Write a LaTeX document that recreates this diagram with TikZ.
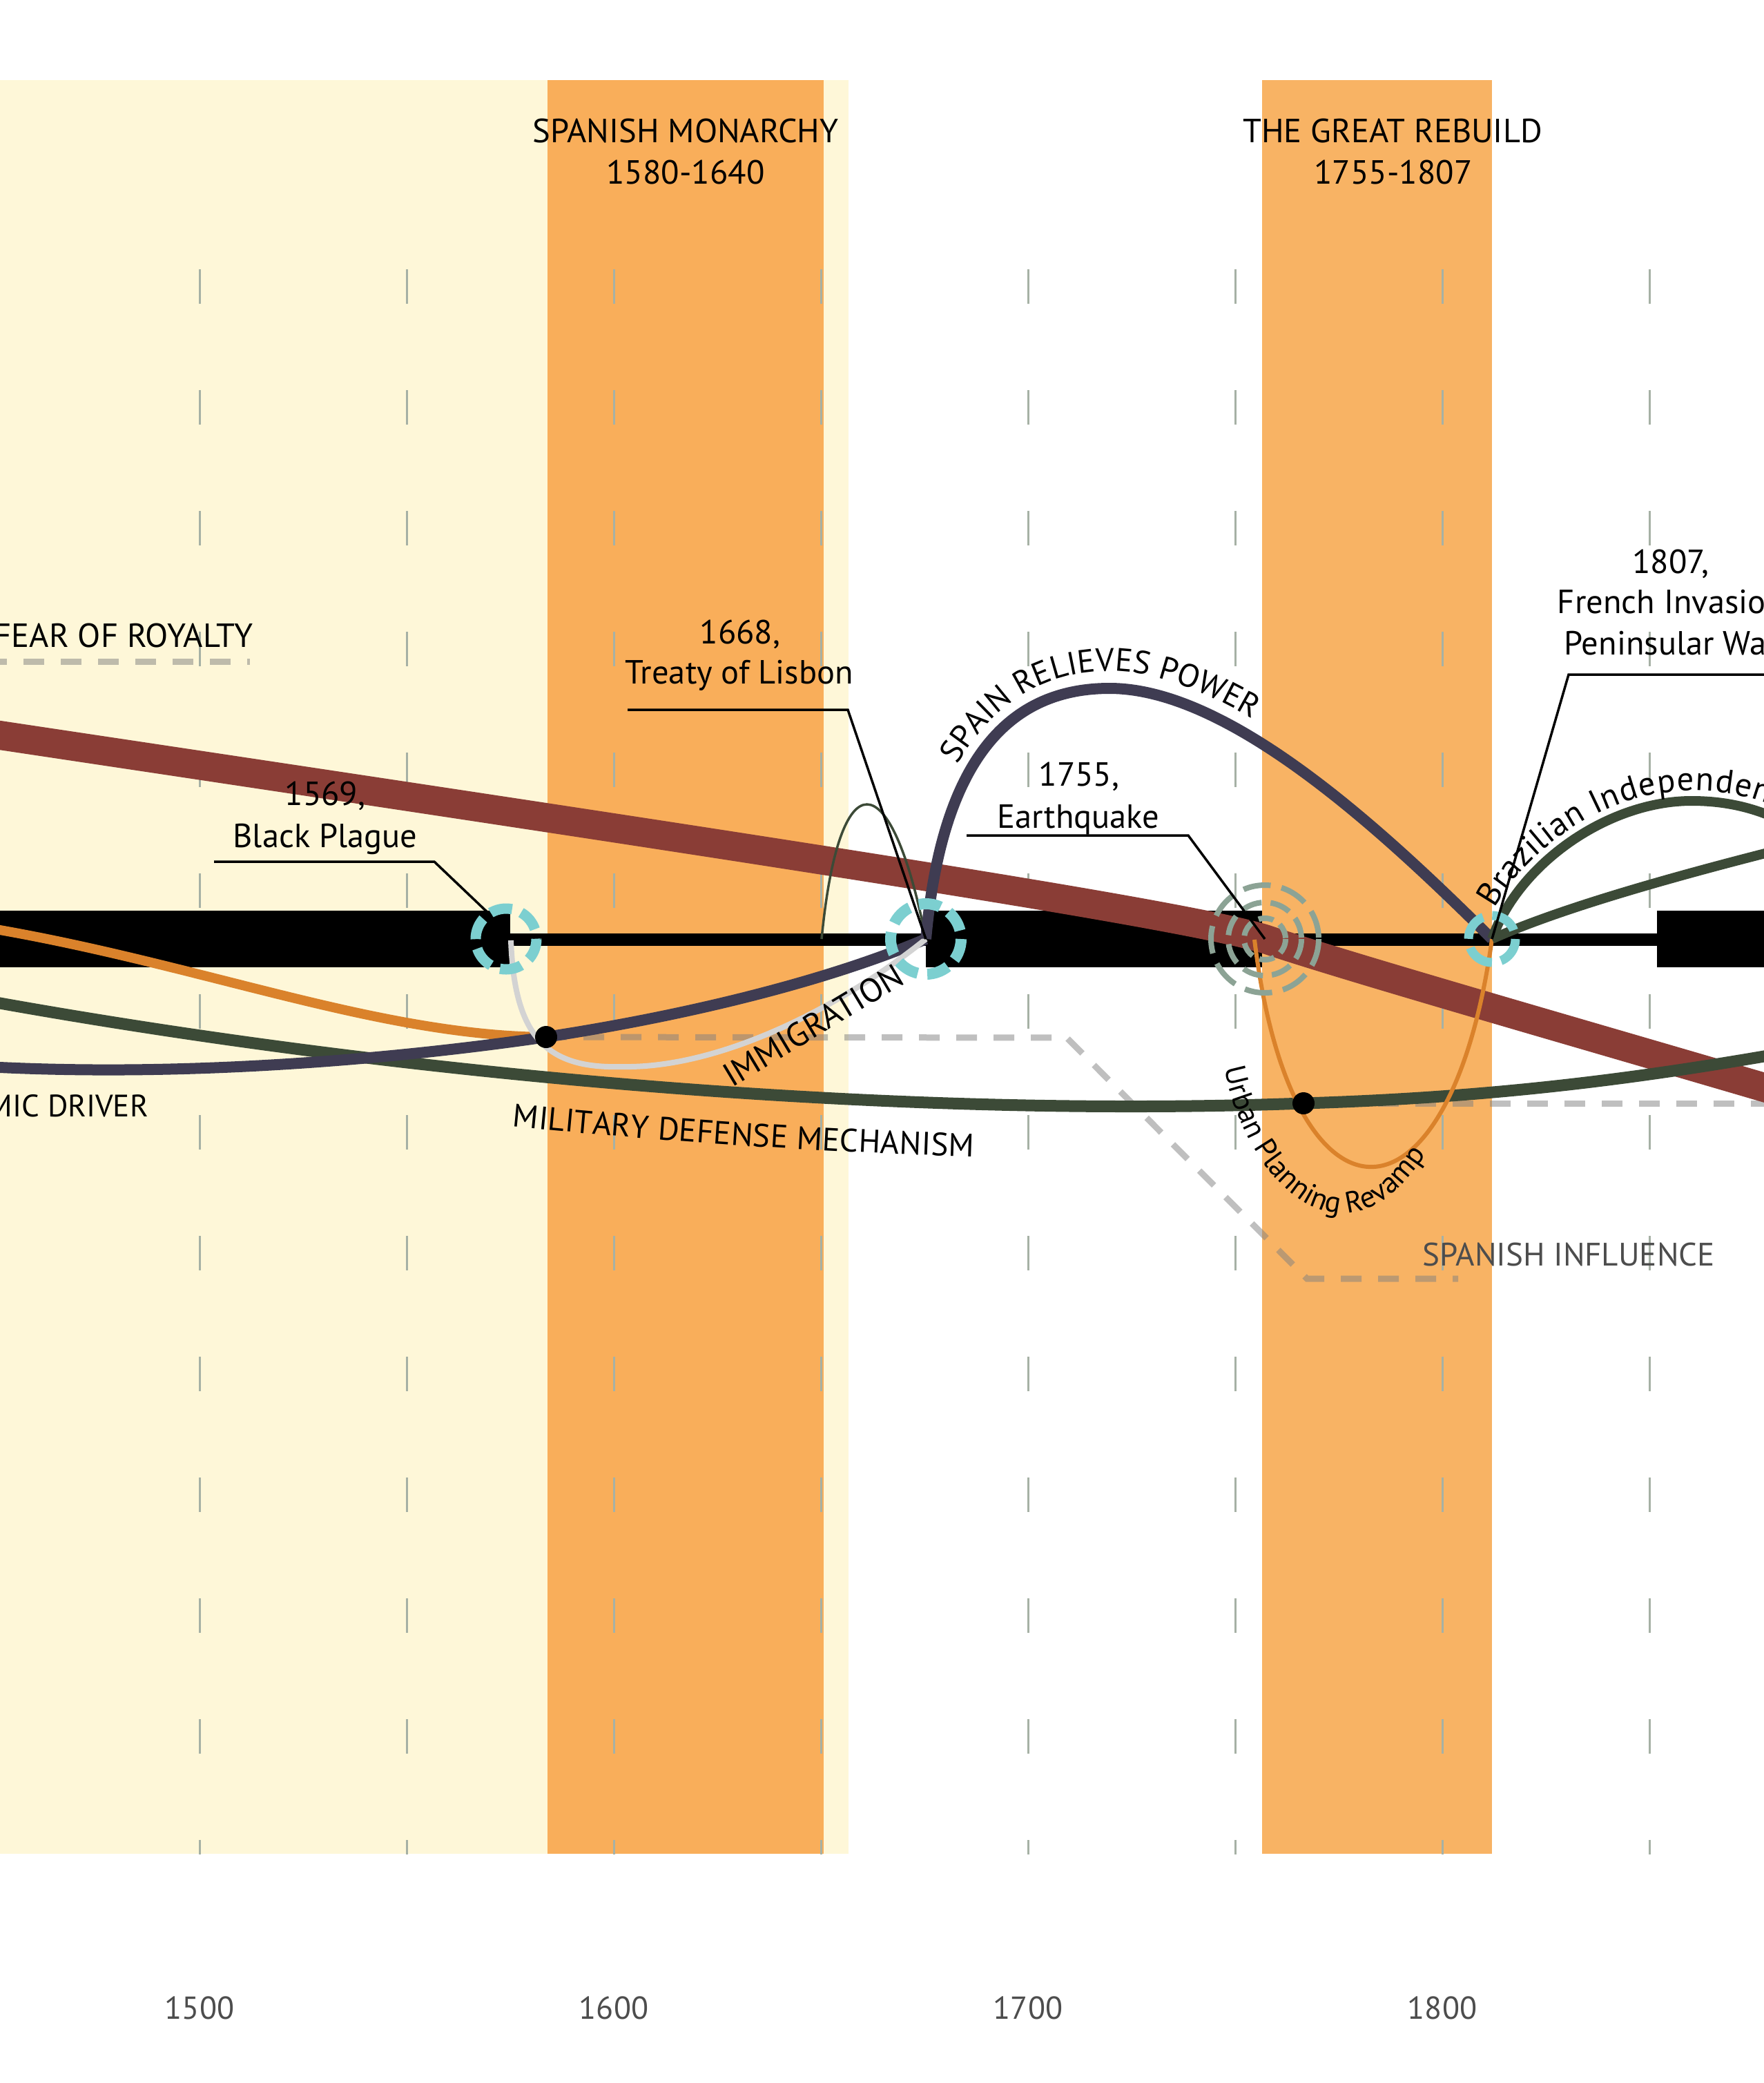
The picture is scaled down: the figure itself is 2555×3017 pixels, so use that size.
\documentclass[tikz,border=0pt]{standalone}
\usepackage{fontspec}
\setmainfont{PT Sans}
\usetikzlibrary{decorations.text}
\definecolor{paleyel}{HTML}{FEF7D8}
\definecolor{orangeA}{HTML}{F9AE5A}
\definecolor{orangeB}{HTML}{F8B364}
\definecolor{tickc}{HTML}{A6B1A5}
\definecolor{maroonc}{HTML}{8A3D36}
\definecolor{navyc}{HTML}{3F3C52}
\definecolor{dgreen}{HTML}{3C4A37}
\definecolor{orangeL}{HTML}{DA822B}
\definecolor{greyL}{HTML}{D3D3D3}
\definecolor{cyanR}{HTML}{7CCFD0}
\definecolor{sagec}{HTML}{8CA395}
\definecolor{labgrey}{HTML}{4D4D4D}
\newcommand\lblfont{\fontsize{48.5}{58}\selectfont}
\newcommand\milfont{\fontsize{47}{56}\selectfont}
\newcommand\yrfont{\fontsize{46}{56}\selectfont}
\newcommand\ecofont{\fontsize{45}{54}\selectfont}
\newcommand\spfont{\fontsize{47}{56}\selectfont}
\newcommand\urbfont{\fontsize{43}{52}\selectfont}
\begin{document}
\begin{tikzpicture}[x=1pt,y=-1pt,
  lab/.style={font=\lblfont, inner sep=0pt, anchor=base},
  yr/.style={font=\yrfont, inner sep=0pt, anchor=base, text=labgrey},
  tickline/.style={draw=tickc, line width=3pt},
  dashgrey/.style={draw=gray, draw opacity=0.5, line width=9pt, dash pattern=on 30pt off 24pt},
  leader/.style={draw=black, line width=3.5pt},
  cyanring/.style={draw=cyanR, dash pattern=on 32pt off 14pt},
  sagering/.style={draw=sagec, line width=8pt},
]
\useasboundingbox (0,0) rectangle (2555,3017);
\clip (0,0) rectangle (2555,3017);
\fill[white] (0,0) rectangle (2555,3017);
% bands
\fill[paleyel] (0,116) rectangle (1229,2685);
\fill[orangeA] (793,116) rectangle (1193,2685);
\fill[orangeB] (1828,116) rectangle (2161,2685);
% ticks
\foreach \x in {289,589,...,2389} {
  \foreach \y in {390,565,...,2490} { \draw[tickline] (\x,\y) -- (\x,\y+50); }
  \draw[tickline] (\x,2665) -- (\x,2686);
}
% years
\node[yr] (y1500) at (289,2924) {1500};
\node[yr] (y1600) at (889,2924) {1600};
\node[yr] (y1700) at (1489,2924) {1700};
\node[yr] (y1800) at (2089,2924) {1800};
% key points
\coordinate (plague) at (733,1360);
\coordinate (defense) at (791,1502);
\coordinate (treaty) at (1341,1360);
\coordinate (quake) at (1832,1360);
\coordinate (quakeL) at (1817,1361);
\coordinate (invasion) at (2161,1360);
\coordinate (urban) at (1888,1598);
% timeline
\fill[black] (0,1319) rectangle (739,1401);
\fill[black] (739,1352) rectangle (1341,1370);
\fill[black] (1341,1319) rectangle (1828,1401);
\fill[black] (1828,1352) rectangle (2400,1370);
\fill[black] (2400,1319) rectangle (2555,1401);
% dashed grey lines
\draw[dashgrey] (-20,958) -- (362,958);
\draw[dashgrey] (defense) -- (1545,1503) -- (1893,1852) -- (2112,1852);
\draw[dashgrey] (urban) -- (2600,1598);
% maroon band
\draw[maroonc, line width=42pt] (-100,1050) -- (0,1065) .. controls (1000,1215) and (1700,1320) .. (quake) .. controls (1950,1400) and (2300,1500) .. (2555,1575) -- (2655,1604);
% main green
\draw[dgreen, line width=17pt] (-100,1435) -- (0,1453) .. controls (600,1560) and (1300,1620) .. (urban) .. controls (2150,1590) and (2350,1565) .. (2555,1530) -- (2655,1513);
% orange left
\draw[orangeL, line width=14pt] (-100,1329) -- (0,1347) .. controls (300,1400) and (550,1500) .. (defense);
% navy economic driver
\draw[navyc, line width=16pt] (-100,1541) -- (0,1546) .. controls (300,1560) and (600,1530) .. (defense) .. controls (1000,1470) and (1200,1420) .. (treaty);
% immigration grey
\draw[greyL, line width=8pt] (740,1362) .. controls (745,1500) and (790,1548) .. (900,1545) .. controls (1050,1548) and (1230,1450) .. (treaty);
% thin green arch
\draw[dgreen, line width=3.5pt] (1190,1360) .. controls (1215,1100) and (1290,1100) .. (treaty);
% navy arc spain relieves power
\draw[navyc, line width=16pt] (treaty) .. controls (1360,1150) and (1430,997) .. (1607,997) .. controls (1780,997) and (2000,1200) .. (invasion);
% urban planning orange U
\draw[orangeL, line width=6pt] (quakeL) .. controls (1870,1800) and (2100,1800) .. (invasion);
% brazilian independence arcs
\draw[dgreen, line width=14pt] (invasion) .. controls (2200,1250) and (2330,1160) .. (2450,1160) .. controls (2520,1160) and (2570,1180) .. (2620,1210) -- (2720,1270);
\draw[dgreen, line width=14pt] (invasion) .. controls (2250,1320) and (2400,1275) .. (2600,1225);
% dots
\fill[black] (defense) circle[radius=16];
\fill[black] (urban) circle[radius=16];
% rings
\draw[cyanring, line width=15pt] (plague) circle[radius=44];
\draw[cyanring, line width=16pt] (treaty) circle[radius=51];
\draw[cyanring, line width=13pt, dash pattern=on 40pt off 13.5pt] (invasion) circle[radius=34];
\draw[sagering, dash pattern=on 40pt off 16pt] (quake) circle[radius=78];
\draw[sagering, dash pattern=on 30pt off 13pt] (quake) circle[radius=53];
\draw[sagering, dash pattern=on 22pt off 11pt] (quake) circle[radius=30];
% leaders
\draw[leader] (310,1248) -- (629,1248) -- (712,1327);
\draw[leader] (909,1028) -- (1228,1028) -- (treaty);
\draw[leader] (1400,1210) -- (1721,1210) -- (quake);
\draw[leader] (2600,977) -- (2272,977) -- (invasion);
% labels
\node[lab] (t1569) at (471,1166) {1569,};
\node[lab] (tplague) at (471,1227) {Black Plague};
\node[lab] (t1668) at (1072,932) {1668,};
\node[lab] (ttreaty) at (1071,990) {Treaty of Lisbon};
\node[lab] (t1755) at (1563,1138) {1755,};
\node[lab] (tquake) at (1562,1199) {Earthquake};
\node[lab] (t1807) at (2420,830) {1807,};
\node[lab] (tfrench) at (2420,888) {French Invasion};
\node[lab] (tpenin) at (2420,948) {Peninsular War};
\node[lab] (tspm) at (993,206) {SPANISH MONARCHY};
\node[lab] (tspy) at (993,266) {1580-1640};
\node[lab] (tgr) at (2017,206) {THE GREAT REBUILD};
\node[lab] (tgry) at (2018,266) {1755-1807};
\node[lab, anchor=base east] (tfear) at (367,937) {FEAR OF ROYALTY};
\node[lab, font=\ecofont, anchor=base east] (teco) at (215,1617) {ECONOMIC DRIVER};
\node[lab, font=\spfont, anchor=base west, text=labgrey] (tspi) at (2060,1833) {SPANISH INFLUENCE};
\node[lab, anchor=center, rotate=31] (timm) at (1178,1485) {IMMIGRATION};
% curved labels
\path[decorate, decoration={text along path, text={|\spfont|SPAIN RELIEVES POWER}, text align={left indent=262pt}}]
  (1316,1358) .. controls (1336,1146) and (1425,972) .. (1607,972) .. controls (1785,972) and (2017,1182) .. (2179,1342);
\path[decorate, decoration={text along path, text={|\lblfont|Brazilian Independence}, text align={left indent=40pt}, raise=15pt}]
  (invasion) .. controls (2200,1250) and (2330,1160) .. (2450,1160) .. controls (2520,1160) and (2570,1180) .. (2620,1210) -- (2720,1270);
\path[decorate, decoration={text along path, text={|\urbfont|Urban Planning Revamp}, text align={left indent=18pt}}]
  (1770,1530) .. controls (1790,1650) and (1860,1760) .. (1950,1757) .. controls (2005,1755) and (2050,1705) .. (2090,1630);
\path[decorate, decoration={text along path, text={|\milfont|MILITARY DEFENSE MECHANISM}, text align={left indent=858pt}, raise=-76pt}]
  (-100,1435) -- (0,1453) .. controls (600,1560) and (1300,1620) .. (urban) .. controls (2150,1590) and (2350,1565) .. (2555,1530) -- (2655,1513);
\end{tikzpicture}
\end{document}
